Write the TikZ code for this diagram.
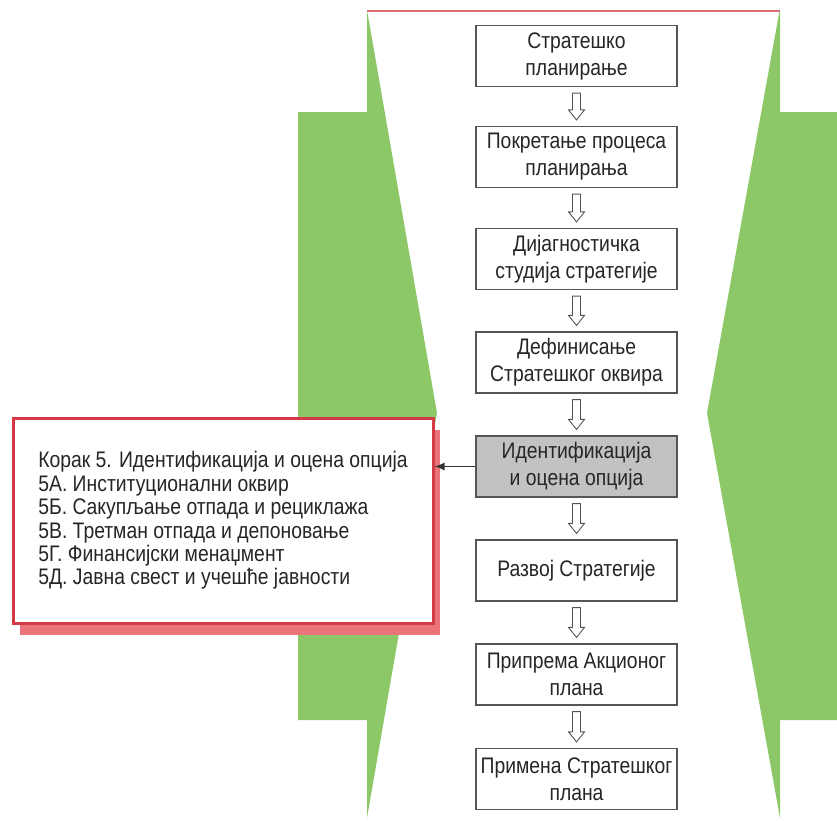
\documentclass[tikz,border=0pt]{standalone}
\usepackage{fontspec}
\setmainfont{Liberation Sans}[FakeStretch=0.86]
\usetikzlibrary{arrows.meta,calc,shadows}

\definecolor{zelena}{RGB}{141,200,104}
\definecolor{crvena}{RGB}{212,58,70}
\definecolor{senka}{RGB}{234,116,121}
\definecolor{siva}{RGB}{194,194,194}
\definecolor{okvir}{RGB}{85,85,85}

\tikzset{
  korak/.style={draw=okvir, line width=1.2pt, fill=white, minimum width=201pt, minimum height=61pt,
    align=center, inner sep=0pt, text=black!85, font=\fontsize{22.5}{27}\selectfont},
  izbor/.style={korak, fill=siva},
  opis/.style={draw=crvena, line width=3pt, fill=white, minimum width=420pt, minimum height=205pt,
    align=left, text=black!85, font=\fontsize{22.5}{23.4}\selectfont,
    drop shadow={shadow xshift=7pt, shadow yshift=-12pt, fill=senka, opacity=1}},
  strelica/.style={draw=okvir, line width=0.9pt, fill=white,
    to path={let \p1=(\tikztostart), \p2=(\tikztotarget) in
      (\x1-4pt,\y1-6pt) -- (\x1+4pt,\y1-6pt) -- (\x1+4pt,\y2+16pt) -- (\x1+8pt,\y2+16pt)
      -- (\x1,\y2+6pt) -- (\x1-8pt,\y2+16pt) -- (\x1-4pt,\y2+16pt) -- cycle}}
}

\begin{document}
\begin{tikzpicture}[x=1pt,y=-1pt]
  \useasboundingbox (0,0) rectangle (837,820);
  \fill[zelena] (367,10) -- (437,413) -- (367,818) -- (367,720) -- (298,720) -- (298,112) -- (367,112) -- cycle;
  \fill[zelena] (780,8) -- (707,413) -- (780,818) -- (780,720) -- (837,720) -- (837,112) -- (780,112) -- cycle;
  \draw[crvena!75, line width=1.5pt] (367,11) -- (780,11);

  \node[korak] (b1) at (576.5,56) {Стратешко\\планирање};
  \node[korak] (b2) at (576.5,157) {Покретање процеса\\планирања};
  \node[korak] (b3) at (576.5,259) {Дијагностичка\\студија стратегије};
  \node[korak] (b4) at (576.5,362.5) {Дефинисање\\Стратешког оквира};
  \node[izbor] (b5) at (576.5,466.5) {Идентификација\\и оцена опција};
  \node[korak] (b6) at (576.5,570.5) {Развој Стратегије};
  \node[korak] (b7) at (576.5,674.5) {Припрема Акционог\\плана};
  \node[korak] (b8) at (576.5,779) {Примена Стратешког\\плана};

  \draw[strelica] (b1.south) to (b2.north);
  \draw[strelica] (b2.south) to (b3.north);
  \draw[strelica] (b3.south) to (b4.north);
  \draw[strelica] (b4.south) to (b5.north);
  \draw[strelica] (b5.south) to (b6.north);
  \draw[strelica] (b6.south) to (b7.north);
  \draw[strelica] (b7.south) to (b8.north);

  \node[opis] (opcije) at (223,520.5) {Корак 5. Идентификација и оцена опција\\
    5А. Институционални оквир\\
    5Б. Сакупљање отпада и рециклажа\\
    5В. Третман отпада и депоновање\\
    5Г. Финансијски менаџмент\\
    5Д. Јавна свест и учешће јавности};
  \draw[black!80, line width=1.5pt, -{Latex[length=10pt,width=8pt]}] (b5.west) -- (b5.west -| opcije.east);
\end{tikzpicture}
\end{document}
